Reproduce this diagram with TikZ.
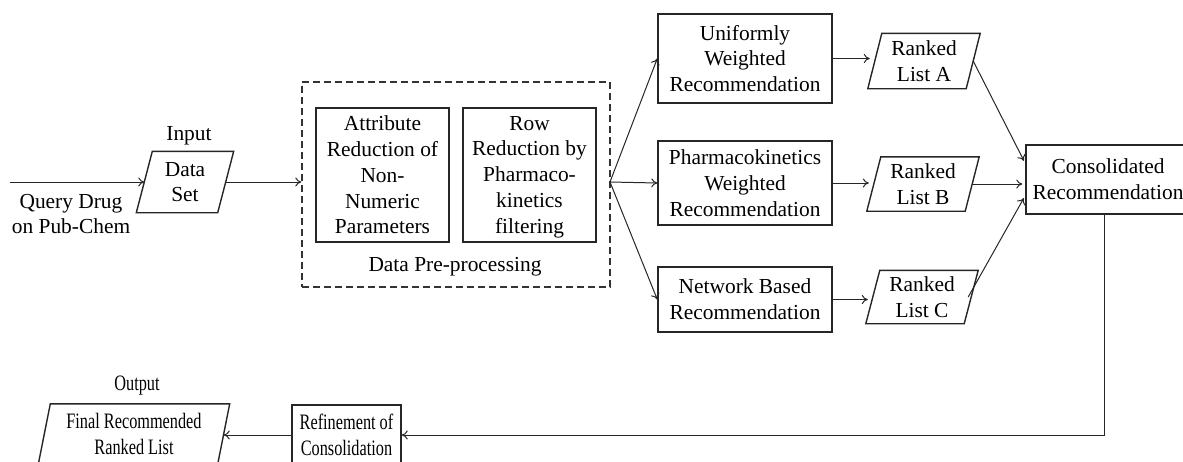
\documentclass[tikz,border=0pt]{standalone}
\usepackage{fontspec}
\setmainfont{Liberation Serif}
\newfontfamily\condfont{Liberation Serif}[FakeStretch=0.74]
\usetikzlibrary{arrows.meta}
\newcommand{\paradraw}[2]{\draw[boxline] ([xshift=#2]#1.north west) -- ([xshift=#2]#1.north east) -- ([xshift=-#2]#1.south east) -- ([xshift=-#2]#1.south west) -- cycle;}
\begin{document}
\begin{tikzpicture}[x=1pt,y=-1pt,
  txt/.style={inner sep=0pt, align=center, font=\fontsize{21.4}{25.7}\selectfont},
  ctxt/.style={inner sep=0pt, align=center, font=\condfont\fontsize{22}{26}\selectfont},
  boxline/.style={draw=black!85, line width=1.4pt},
  box/.style={txt, boxline},
  cbox/.style={ctxt, boxline},
  dashbox/.style={draw=black!80, line width=1.4pt, dash pattern=on 7pt off 4pt},
  arr/.style={draw=black!85, line width=1pt, -{To[length=6pt,width=9pt]}},
  ln/.style={draw=black!85, line width=1pt}]
\useasboundingbox (0,0) rectangle (1183,461);

% input side
\node[txt, minimum width=81pt, minimum height=61pt] (dataset) at (185,182) {Data\\Set};
\paradraw{dataset}{8pt}
\node[txt] (inputlbl) at (189,136) {Input};
\node[txt] (query) at (71,214) {Query Drug\\on Pub-Chem};
\coordinate (qstart) at (10,182);

% pre-processing
\node[dashbox, minimum width=308pt, minimum height=205pt, inner sep=0pt] (pre) at (456,184.5) {};
\node[box, minimum width=133pt, minimum height=134pt] (attr) at (382.5,175) {Attribute\\Reduction of\\Non-\\Numeric\\Parameters};
\node[box, minimum width=133pt, minimum height=134pt] (row) at (529.5,175) {\strut Row\\Reduction by\\Pharmaco-\\kinetics\\filtering};
\node[txt] (prelbl) at (455,267) {Data Pre-processing};
\coordinate (br) at (610,182);

% recommendations
\node[box, minimum width=174pt, minimum height=89pt] (uni) at (745,58.5) {Uniformly\\Weighted\\Recommendation};
\node[box, minimum width=174pt, minimum height=84pt] (pk) at (745,183) {Pharmacokinetics\\Weighted\\Recommendation};
\node[box, minimum width=174pt, minimum height=65pt] (net) at (745,299.5) {Network Based\\Recommendation};

% ranked lists
\node[txt, minimum width=98pt, minimum height=55pt] (listA) at (924,61) {Ranked\\List A};
\paradraw{listA}{7pt}
\node[txt, minimum width=98pt, minimum height=54pt] (listB) at (923,184) {Ranked\\List B};
\paradraw{listB}{7pt}
\node[txt, minimum width=98pt, minimum height=53pt] (listC) at (922,297) {Ranked\\List C};
\paradraw{listC}{7pt}

% consolidated
\node[box, minimum width=164pt, minimum height=69pt] (cons) at (1108,179.5) {Consolidated\\Recommendation};

% bottom row
\node[cbox, minimum width=109pt, minimum height=60pt] (ref) at (346.5,435) {Refinement of\\Consolidation};
\node[ctxt, minimum width=179pt, minimum height=60pt] (final) at (134,434) {Final Recommended\\Ranked List};
\paradraw{final}{6pt}
\node[ctxt] (outlbl) at (137,386) {Output};

% connectors
\draw[arr] (qstart) -- (qstart -| dataset.west);
\draw[arr] (dataset.east) -- (dataset.east -| pre.west);
\draw[arr] (br) -- (uni.west);
\draw[arr] (br) -- (pk.west);
\draw[arr] (br) -- (net.west);
\draw[arr] (uni.east) -- ([xshift=-5pt]uni.east -| listA.west);
\draw[arr] (pk.east) -- ([xshift=-5pt]pk.east -| listB.west);
\draw[arr] (net.east) -- ([xshift=-5pt]net.east -| listC.west);
\draw[arr, shorten >=3pt] (listA.east) -- ([yshift=16pt]cons.west);
\draw[arr, shorten >=3pt] (listB.east) -- (listB.east -| cons.west);
\draw[arr, shorten >=3pt] ([xshift=-3pt]listC.east) -- ([yshift=-16pt]cons.west);
\draw[arr] ([xshift=-4pt]cons.south) |- (ref.east);
\draw[arr] (ref.west) -- (ref.west -| final.east);
\end{tikzpicture}
\end{document}
